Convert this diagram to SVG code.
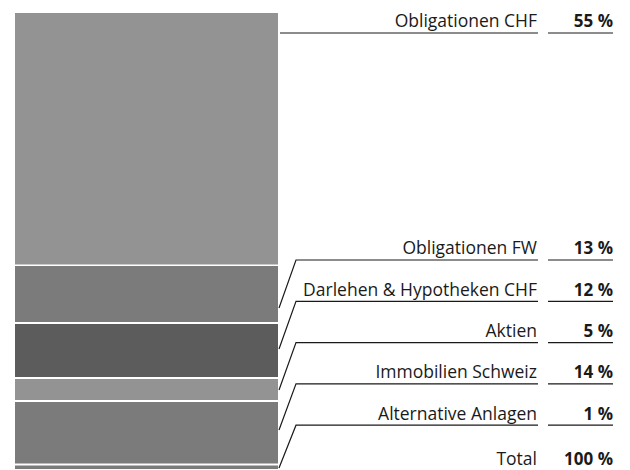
<svg xmlns="http://www.w3.org/2000/svg" width="630" height="470" viewBox="0 0 630 470">
<style>
.lbl{font-family:"Open Sans","Noto Sans","Liberation Sans",sans-serif;font-size:17.5px;fill:#1a1a1a;text-anchor:end}
.pct{font-family:"Open Sans","Noto Sans","Liberation Sans",sans-serif;font-size:17px;font-weight:bold;fill:#1a1a1a;text-anchor:end}
.ln{stroke:#1a1a1a;stroke-width:1.2;fill:none}
.c1{fill:#939393}.c2{fill:#7b7b7b}.c3{fill:#5c5c5c}
</style>
<rect width="630" height="470" fill="#ffffff"/>
<g id="obligationen-chf">
<rect class="c1" x="15" y="13" width="263" height="251.5"/>
<text class="lbl" x="537" y="27">Obligationen CHF</text>
<text class="pct" x="613" y="27">55 %</text>
</g>
<g id="obligationen-fw">
<rect class="c2" x="15" y="266" width="263" height="56"/>
<text class="lbl" x="537" y="254">Obligationen FW</text>
<text class="pct" x="613" y="254">13 %</text>
</g>
<g id="darlehen">
<rect class="c3" x="15" y="324" width="263" height="53"/>
<text class="lbl" x="537" y="295.5">Darlehen &amp; Hypotheken CHF</text>
<text class="pct" x="613" y="295.5">12 %</text>
</g>
<g id="aktien">
<rect class="c1" x="15" y="379" width="263" height="21"/>
<text class="lbl" x="537" y="337">Aktien</text>
<text class="pct" x="613" y="337">5 %</text>
</g>
<g id="immobilien">
<rect class="c2" x="15" y="402" width="263" height="61.5"/>
<text class="lbl" x="537" y="378">Immobilien Schweiz</text>
<text class="pct" x="613" y="378">14 %</text>
</g>
<g id="alternative">
<rect class="c2" x="15" y="465.5" width="263" height="3.5"/>
<text class="lbl" x="537" y="419.5">Alternative Anlagen</text>
<text class="pct" x="613" y="419.5">1 %</text>
</g>
<g id="total">
<text class="lbl" x="537" y="465">Total</text>
<text class="pct" x="613" y="465">100 %</text>
</g>
<g id="connectors">
<path class="ln" d="M280 33H538M548 33H613"/>
<path class="ln" d="M279 308L296 260H538M548 260H613"/>
<path class="ln" d="M279 349L296 301.3H538M548 301.3H613"/>
<path class="ln" d="M279 390L296 342.6H538M548 342.6H613"/>
<path class="ln" d="M279 430L296 383.9H538M548 383.9H613"/>
<path class="ln" d="M279 468L296 425.2H538M548 425.2H613"/>
</g>
</svg>
